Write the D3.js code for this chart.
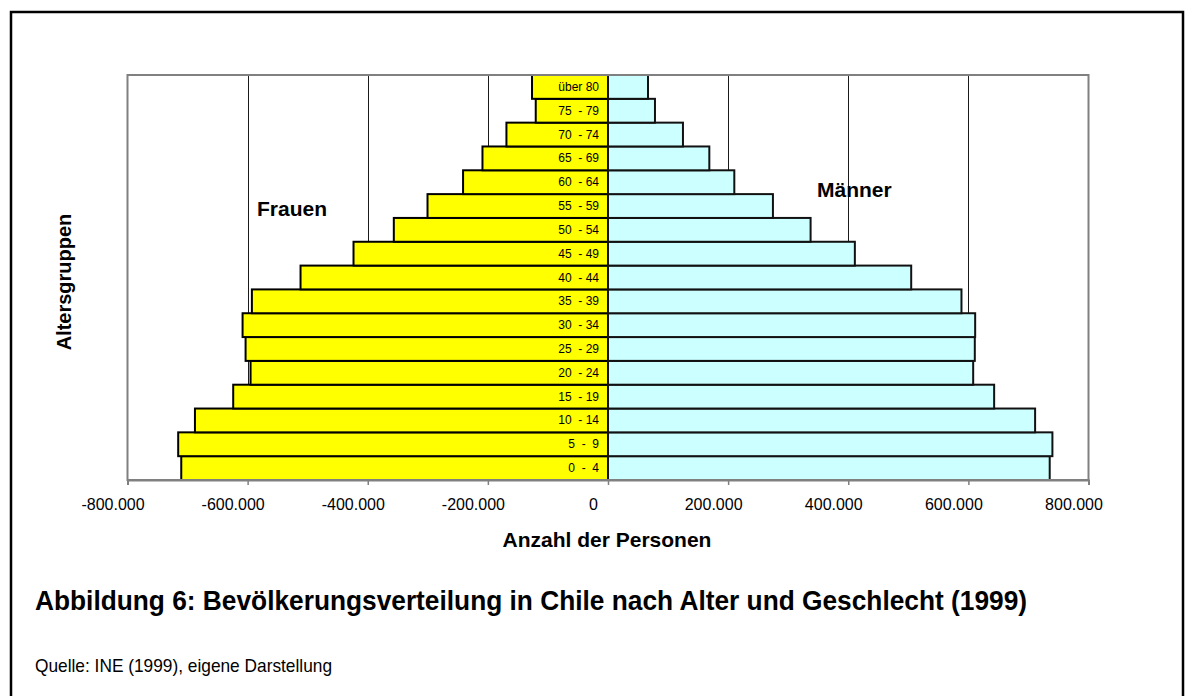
<!DOCTYPE html>
<html>
<head>
<meta charset="utf-8">
<script src="https://cdn.jsdelivr.net/npm/d3@7/dist/d3.min.js"></script>
<style>
  html, body { margin: 0; padding: 0; background: #fff; }
  svg { display: block; font-family: "Liberation Sans", Arial, sans-serif; }
</style>
</head>
<body>
<svg id="chart" width="1195" height="696"></svg>
<script>
// Altersgruppen von unten (jung) nach oben (alt)
const ageGroups = ["0  -  4", "5  -  9", "10  - 14", "15  - 19", "20  - 24", "25  - 29",
  "30  - 34", "35  - 39", "40  - 44", "45  - 49", "50  - 54", "55  - 59",
  "60  - 64", "65  - 69", "70  - 74", "75  - 79", "über 80"];
// Frauen (links, als negative Werte dargestellt)
const women = [710500, 715600, 687700, 624000, 595100, 603400, 608400, 592900,
  511900, 423700, 356600, 300500, 241300, 209000, 169100, 120300, 126500];
// Männer (rechts)
const men = [735400, 739900, 711100, 642900, 608000, 610700, 611300, 588500,
  504800, 411000, 337300, 274600, 210300, 168700, 124800, 78200, 66600];
const tickValues = [-800000, -600000, -400000, -200000, 0, 200000, 400000, 600000, 800000];
const gridValues = [-600000, -400000, -200000, 200000, 400000, 600000];

const svg = d3.select("#chart");
const plot = { left: 127.5, right: 1088.5, top: 75, bottom: 480 };

const x = d3.scaleLinear().domain([-800000, 800000]).range([plot.left, plot.right]);
const y = d3.scaleBand().domain(ageGroups.slice().reverse()).range([plot.top, plot.bottom]).padding(0);

const de = d3.formatLocale({ decimal: ",", thousands: ".", grouping: [3], currency: ["", " €"], minus: "-" });
const fmt = de.format(",");

// Rahmen um die gesamte Abbildung
svg.append("rect")
  .attr("x", 11).attr("y", 12).attr("width", 1172).attr("height", 720)
  .attr("fill", "none").attr("stroke", "#000").attr("stroke-width", 2.5);

// Gitternetzlinien
svg.append("g").selectAll("line").data(gridValues).join("line")
  .attr("x1", d => Math.round(x(d)) + 0.5).attr("x2", d => Math.round(x(d)) + 0.5)
  .attr("y1", plot.top).attr("y2", plot.bottom)
  .attr("stroke", "#1a1a1a").attr("stroke-width", 1);

// Balken Frauen
svg.append("g").selectAll("rect").data(women).join("rect")
  .attr("x", d => x(-d)).attr("width", d => x(0) - x(-d))
  .attr("y", (d, i) => y(ageGroups[i])).attr("height", y.bandwidth())
  .attr("fill", "#ffff00").attr("stroke", "#000").attr("stroke-width", 2);

// Balken Männer
svg.append("g").selectAll("rect").data(men).join("rect")
  .attr("x", x(0)).attr("width", d => x(d) - x(0))
  .attr("y", (d, i) => y(ageGroups[i])).attr("height", y.bandwidth())
  .attr("fill", "#ccffff").attr("stroke", "#111").attr("stroke-width", 2);

// Beschriftung der Altersgruppen
svg.append("g").selectAll("text").data(ageGroups).join("text")
  .attr("x", x(0) - 9).attr("y", d => y(d) + y.bandwidth() / 2 + 4)
  .attr("text-anchor", "end").attr("font-size", 12).attr("fill", "#000")
  .style("white-space", "pre")
  .text(d => d);

// Rahmen der Zeichnungsfläche
svg.append("rect")
  .attr("x", plot.left).attr("y", plot.top)
  .attr("width", plot.right - plot.left).attr("height", plot.bottom - plot.top)
  .attr("fill", "none").attr("stroke", "#808080").attr("stroke-width", 2);

// x-Achse
const axis = d3.axisBottom(x).tickValues(tickValues).tickSize(5).tickFormat(fmt);
const gx = svg.append("g").attr("transform", `translate(0,${plot.bottom})`).call(axis);
gx.select(".domain").attr("stroke", "#808080").attr("stroke-width", 2);
gx.selectAll(".tick line").attr("stroke", "#808080").attr("stroke-width", 1.5);
gx.selectAll(".tick text")
  .attr("font-family", "Liberation Sans, Arial, sans-serif")
  .attr("font-size", 16).attr("fill", "#000")
  .attr("x", -15).attr("y", 19).attr("dy", "0.71em");

// Achsentitel
svg.append("text").attr("x", 607).attr("y", 547)
  .attr("text-anchor", "middle").attr("font-size", 21).attr("font-weight", "bold")
  .text("Anzahl der Personen");

svg.append("text")
  .attr("transform", "translate(71,282) rotate(-90)")
  .attr("text-anchor", "middle").attr("font-size", 20).attr("font-weight", "bold")
  .text("Altersgruppen");

// Serienbeschriftungen
svg.append("text").attr("x", 257).attr("y", 216)
  .attr("font-size", 21).attr("font-weight", "bold").text("Frauen");
svg.append("text").attr("x", 817).attr("y", 197)
  .attr("font-size", 21).attr("font-weight", "bold").text("Männer");

// Bildunterschrift und Quelle
svg.append("text").attr("x", 35).attr("y", 610)
  .attr("font-size", 28).attr("font-weight", "bold")
  .attr("textLength", 992).attr("lengthAdjust", "spacingAndGlyphs")
  .text("Abbildung 6: Bevölkerungsverteilung in Chile nach Alter und Geschlecht (1999)");
svg.append("text").attr("x", 35).attr("y", 672)
  .attr("font-size", 18.5)
  .attr("textLength", 297).attr("lengthAdjust", "spacingAndGlyphs")
  .text("Quelle: INE (1999), eigene Darstellung");
</script>
</body>
</html>
